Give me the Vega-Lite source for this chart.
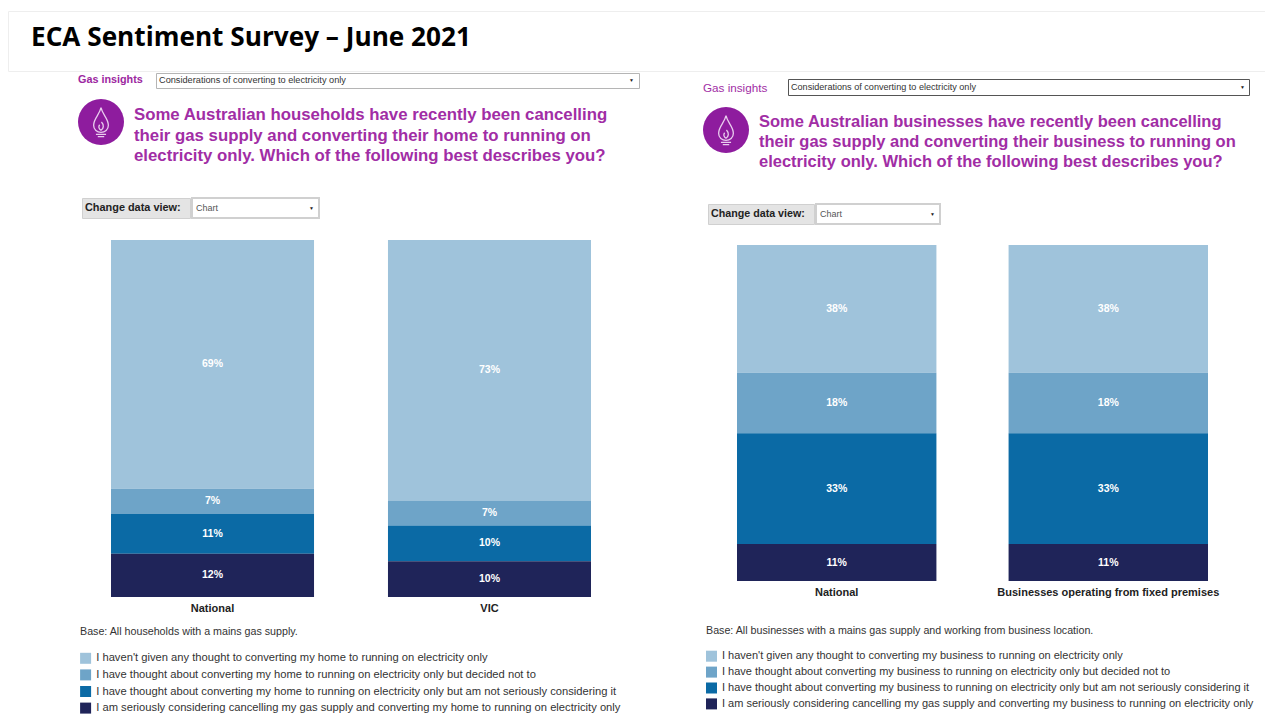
{"$schema":"https://vega.github.io/schema/vega-lite/v6.json","background":"white","padding":{"left":7,"top":10,"right":0,"bottom":0},"spacing":0,
"config":{"view":{"stroke":null},"font":"Liberation Sans"},
"resolve":{"scale":{"color":"independent"},"legend":{"color":"independent"}},
"vconcat":[
{"width":1258,"height":60,"view":{"stroke":"#eeeeee"},"data":{"values":[{}]},"mark":{"type":"text","text":"ECA Sentiment Survey – June 2021","font":"Open Sans","fontWeight":"bold","fontSize":26.2,"color":"#000000","align":"left","baseline":"middle","x":23,"y":27}},
{"spacing":0,"resolve":{"scale":{"color":"independent"},"legend":{"color":"independent"}},"hconcat":[
{"width":70,"height":1,"data":{"values":[]},"mark":{"type":"text","text":""}},
{"spacing":0,"resolve":{"scale":{"color":"independent"},"legend":{"color":"independent"}},"vconcat":[
{"spacing":0,"hconcat":[
{"width":77,"height":15,"data":{"values":[{}]},"mark":{"type":"text","text":"Gas insights","color":"#9c27a0","fontWeight":"bold","fontSize":10.8,"align":"left","baseline":"middle","x":0,"y":7}},
{"width":483,"height":15,"view":{"stroke":"#b5b5b5","fill":"white"},"data":{"values":[{}]},"layer":[{"mark":{"type":"text","text":"Considerations of converting to electricity only","color":"#333333","fontSize":9.2,"align":"left","baseline":"middle","x":3,"y":7}},{"mark":{"type":"text","text":"▼","color":"#222222","fontSize":5,"align":"right","baseline":"middle","x":478,"y":7}}]}
]},
{"width":10,"height":10,"data":{"values":[]},"mark":{"type":"text","text":""}},
{"spacing":0,"hconcat":[
{"width":46,"height":46,"data":{"values":[{}]},"layer":[{"mark":{"type":"point","filled":true,"shape":"circle","size":2116,"color":"#8e1c9e","opacity":1}},{"mark":{"type":"point","filled":false,"size":2116,"color":"#e9cdee","strokeWidth":1.3,"opacity":1,"shape":"M0,-0.62 C0.06,-0.32 0.32,-0.15 0.32,0.14 C0.32,0.34 0.17,0.45 0,0.45 C-0.17,0.45 -0.32,0.34 -0.32,0.14 C-0.32,-0.15 -0.06,-0.32 0,-0.62 Z M0.02,0 C0.14,0.12 0.12,0.3 0,0.36 C-0.1,0.3 -0.12,0.2 -0.06,0.12 M-0.22,0.54 L0.22,0.54 M-0.14,0.64 L0.14,0.64"}}]},
{"width":10,"height":1,"data":{"values":[]},"mark":{"type":"text","text":""}},
{"width":500,"height":70,"data":{"values":[{}]},"mark":{"type":"text","text":["Some Australian households have recently been cancelling","their gas supply and converting their home to running on","electricity only. Which of the following best describes you?"],"color":"#a12da5","fontWeight":"bold","fontSize":16.8,"lineHeight":20.5,"align":"left","baseline":"top","x":0,"y":8}}
]},
{"width":10,"height":28,"data":{"values":[]},"mark":{"type":"text","text":""}},
{"spacing":0,"hconcat":[
{"width":3,"height":1,"data":{"values":[]},"mark":{"type":"text","text":""}},
{"width":108,"height":20,"view":{"fill":"#e4e4e4","stroke":"#d0d0d0"},"data":{"values":[{}]},"mark":{"type":"text","text":"Change data view:","color":"#222222","fontWeight":"bold","fontSize":10.9,"align":"left","baseline":"middle","x":3,"y":10}},
{"width":127,"height":20,"view":{"fill":"white","stroke":"#d0d0d0","strokeWidth":2},"data":{"values":[{}]},"layer":[{"mark":{"type":"text","text":"Chart","color":"#555555","fontSize":9,"align":"left","baseline":"middle","x":4,"y":10}},{"mark":{"type":"text","text":"▼","color":"#222222","fontSize":5,"align":"right","baseline":"middle","x":122,"y":10}}]}
]},
{"width":10,"height":21,"data":{"values":[]},"mark":{"type":"text","text":""}},
{"width":625,"height":357,
"data":{"values":[
{"group":"National","response":"I haven't given any thought to converting my home to running on electricity only","rank":1,"share":0.69},
{"group":"National","response":"I have thought about converting my home to running on electricity only but decided not to","rank":2,"share":0.07},
{"group":"National","response":"I have thought about converting my home to running on electricity only but am not seriously considering it","rank":3,"share":0.11},
{"group":"National","response":"I am seriously considering cancelling my gas supply and converting my home to running on electricity only","rank":4,"share":0.12},
{"group":"VIC","response":"I haven't given any thought to converting my home to running on electricity only","rank":1,"share":0.73},
{"group":"VIC","response":"I have thought about converting my home to running on electricity only but decided not to","rank":2,"share":0.07},
{"group":"VIC","response":"I have thought about converting my home to running on electricity only but am not seriously considering it","rank":3,"share":0.10},
{"group":"VIC","response":"I am seriously considering cancelling my gas supply and converting my home to running on electricity only","rank":4,"share":0.10}
]},
"encoding":{
"x":{"field":"group","type":"nominal","sort":null,"scale":{"range":[33,513],"paddingInner":0.267,"paddingOuter":0},"axis":{"title":null,"labelAngle":0,"domain":false,"ticks":false,"labelFontWeight":"bold","labelFontSize":11,"labelColor":"#222222","labelPadding":5,"labelLimit":400}},
"y":{"field":"share","type":"quantitative","stack":"normalize","axis":null},
"order":{"field":"rank","sort":"descending"}
},
"layer":[
{"mark":{"type":"bar"},"encoding":{"color":{"field":"response","type":"nominal","sort":null,"scale":{"domain":["I haven't given any thought to converting my home to running on electricity only","I have thought about converting my home to running on electricity only but decided not to","I have thought about converting my home to running on electricity only but am not seriously considering it","I am seriously considering cancelling my gas supply and converting my home to running on electricity only"],"range":["#9fc3db","#6ea4c8","#0b6aa5","#1f2459"]},"legend":{"orient":"none","legendX":2,"legendY":387,"title":"Base: All households with a mains gas supply.","titleFontWeight":"normal","titleFontSize":10.7,"titleColor":"#333333","titlePadding":15,"titleLimit":600,"labelFontSize":11.2,"labelColor":"#333333","labelLimit":700,"labelOffset":5,"symbolType":"square","symbolSize":121,"symbolStrokeWidth":0,"rowPadding":3.6,"padding":0}}}},
{"mark":{"type":"text","color":"white","fontWeight":"bold","fontSize":10.5},"encoding":{"y":{"field":"share","type":"quantitative","stack":"normalize","bandPosition":0.5,"axis":null},"text":{"field":"share","type":"quantitative","format":".0%"}}}
]}
]},
{"spacing":0,"resolve":{"scale":{"color":"independent"},"legend":{"color":"independent"}},"vconcat":[
{"width":10,"height":5,"data":{"values":[]},"mark":{"type":"text","text":""}},
{"spacing":0,"hconcat":[
{"width":84,"height":16,"data":{"values":[{}]},"mark":{"type":"text","text":"Gas insights","color":"#a12da5","fontSize":11.7,"align":"left","baseline":"middle","x":0,"y":9}},
{"width":461,"height":16,"view":{"stroke":"#555555","fill":"white"},"data":{"values":[{}]},"layer":[{"mark":{"type":"text","text":"Considerations of converting to electricity only","color":"#333333","fontSize":9.1,"align":"left","baseline":"middle","x":3,"y":8}},{"mark":{"type":"text","text":"▼","color":"#222222","fontSize":5,"align":"right","baseline":"middle","x":457,"y":8}}]}
]},
{"width":10,"height":11,"data":{"values":[]},"mark":{"type":"text","text":""}},
{"spacing":0,"hconcat":[
{"width":46,"height":46,"data":{"values":[{}]},"layer":[{"mark":{"type":"point","filled":true,"shape":"circle","size":2116,"color":"#8e1c9e","opacity":1}},{"mark":{"type":"point","filled":false,"size":2116,"color":"#e9cdee","strokeWidth":1.3,"opacity":1,"shape":"M0,-0.62 C0.06,-0.32 0.32,-0.15 0.32,0.14 C0.32,0.34 0.17,0.45 0,0.45 C-0.17,0.45 -0.32,0.34 -0.32,0.14 C-0.32,-0.15 -0.06,-0.32 0,-0.62 Z M0.02,0 C0.14,0.12 0.12,0.3 0,0.36 C-0.1,0.3 -0.12,0.2 -0.06,0.12 M-0.22,0.54 L0.22,0.54 M-0.14,0.64 L0.14,0.64"}}]},
{"width":10,"height":1,"data":{"values":[]},"mark":{"type":"text","text":""}},
{"width":489,"height":70,"data":{"values":[{}]},"mark":{"type":"text","text":["Some Australian businesses have recently been cancelling","their gas supply and converting their business to running on","electricity only. Which of the following best describes you?"],"color":"#a12da5","fontWeight":"bold","fontSize":16.5,"lineHeight":20,"align":"left","baseline":"top","x":0,"y":7}}
]},
{"width":10,"height":26,"data":{"values":[]},"mark":{"type":"text","text":""}},
{"spacing":0,"hconcat":[
{"width":4,"height":1,"data":{"values":[]},"mark":{"type":"text","text":""}},
{"width":106,"height":20,"view":{"fill":"#e4e4e4","stroke":"#d0d0d0"},"data":{"values":[{}]},"mark":{"type":"text","text":"Change data view:","color":"#222222","fontWeight":"bold","fontSize":10.7,"align":"left","baseline":"middle","x":3,"y":10}},
{"width":124,"height":20,"view":{"fill":"white","stroke":"#d0d0d0","strokeWidth":2},"data":{"values":[{}]},"layer":[{"mark":{"type":"text","text":"Chart","color":"#555555","fontSize":9,"align":"left","baseline":"middle","x":4,"y":10}},{"mark":{"type":"text","text":"▼","color":"#222222","fontSize":5,"align":"right","baseline":"middle","x":119,"y":10}}]}
]},
{"width":10,"height":20,"data":{"values":[]},"mark":{"type":"text","text":""}},
{"width":545,"height":336,
"data":{"values":[
{"group":"National","response":"I haven't given any thought to converting my business to running on electricity only","rank":1,"share":0.38},
{"group":"National","response":"I have thought about converting my business to running on electricity only but decided not to","rank":2,"share":0.18},
{"group":"National","response":"I have thought about converting my business to running on electricity only but am not seriously considering it","rank":3,"share":0.33},
{"group":"National","response":"I am seriously considering cancelling my gas supply and converting my business to running on electricity only","rank":4,"share":0.11},
{"group":"Businesses operating from fixed premises","response":"I haven't given any thought to converting my business to running on electricity only","rank":1,"share":0.38},
{"group":"Businesses operating from fixed premises","response":"I have thought about converting my business to running on electricity only but decided not to","rank":2,"share":0.18},
{"group":"Businesses operating from fixed premises","response":"I have thought about converting my business to running on electricity only but am not seriously considering it","rank":3,"share":0.33},
{"group":"Businesses operating from fixed premises","response":"I am seriously considering cancelling my gas supply and converting my business to running on electricity only","rank":4,"share":0.11}
]},
"encoding":{
"x":{"field":"group","type":"nominal","sort":null,"scale":{"range":[34,505],"paddingInner":0.2657,"paddingOuter":0},"axis":{"title":null,"labelAngle":0,"domain":false,"ticks":false,"labelFontWeight":"bold","labelFontSize":11,"labelColor":"#222222","labelPadding":5,"labelLimit":400}},
"y":{"field":"share","type":"quantitative","stack":"normalize","axis":null},
"order":{"field":"rank","sort":"descending"}
},
"layer":[
{"mark":{"type":"bar"},"encoding":{"color":{"field":"response","type":"nominal","sort":null,"scale":{"domain":["I haven't given any thought to converting my business to running on electricity only","I have thought about converting my business to running on electricity only but decided not to","I have thought about converting my business to running on electricity only but am not seriously considering it","I am seriously considering cancelling my gas supply and converting my business to running on electricity only"],"range":["#9fc3db","#6ea4c8","#0b6aa5","#1f2459"]},"legend":{"orient":"none","legendX":3,"legendY":381,"title":"Base: All businesses with a mains gas supply and working from business location.","titleFontWeight":"normal","titleFontSize":10.7,"titleColor":"#333333","titlePadding":14,"titleLimit":600,"labelFontSize":11,"labelColor":"#333333","labelLimit":700,"labelOffset":5,"symbolType":"square","symbolSize":121,"symbolStrokeWidth":0,"rowPadding":3.9,"padding":0}}}},
{"mark":{"type":"text","color":"white","fontWeight":"bold","fontSize":10.5},"encoding":{"y":{"field":"share","type":"quantitative","stack":"normalize","bandPosition":0.5,"axis":null},"text":{"field":"share","type":"quantitative","format":".0%"}}}
]}
]}
]}
]}
